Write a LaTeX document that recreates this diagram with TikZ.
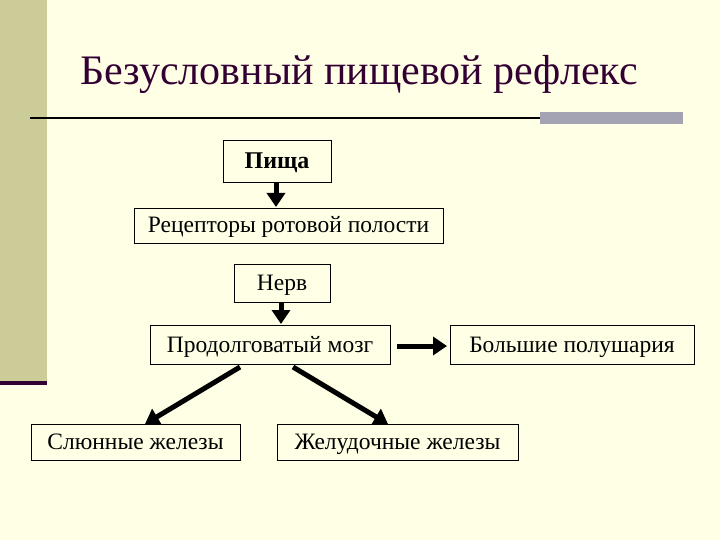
\documentclass[tikz,border=0pt]{standalone}
\usepackage{fontspec}
\setmainfont{Liberation Serif}
\usetikzlibrary{arrows.meta}
\definecolor{bg}{HTML}{FFFFE6}
\definecolor{strip}{HTML}{CCCC99}
\definecolor{plum}{HTML}{330033}
\definecolor{barg}{HTML}{A3A3B4}
\begin{document}
\begin{tikzpicture}[x=1pt,y=-1pt,
  box/.style={draw=black,line width=0.8pt,fill=bg,inner sep=0pt,text height=15pt,text depth=0pt,font=\fontsize{23.5}{26}\selectfont},
  arr/.style={line width=5pt,-{Triangle[length=14pt,width=18pt]}}]
\fill[bg] (0,0) rectangle (720,540);
\useasboundingbox (0,0) rectangle (720,540);
\fill[strip] (0,0) rectangle (47,382);
\fill[plum] (0,381) rectangle (47,385);
\node[text=plum,font=\fontsize{42}{46}\selectfont,anchor=base west,inner sep=0pt] (title) at (80,85) {Безусловный пищевой рефлекс};
\draw[line width=2.5pt] (30,118) -- (540,118);
\fill[barg] (540,112) rectangle (683,124);
\node[box,minimum width=108pt,minimum height=42pt,font=\fontsize{24}{26}\selectfont\bfseries] (a) at (277,161) {Пища};
\node[box,minimum width=309pt,minimum height=35pt] (b) at (288.5,225.5) {Рецепторы ротовой полости};
\node[box,minimum width=96pt,minimum height=38pt] (c) at (282,283) {Нерв};
\node[box,minimum width=240pt,minimum height=39pt] (d) at (270,344.5) {Продолговатый мозг};
\node[box,minimum width=244pt,minimum height=39pt] (e) at (572,344.5) {Большие полушария};
\node[box,minimum width=209pt,minimum height=36pt] (f) at (135.5,442) {Слюнные железы};
\node[box,minimum width=241pt,minimum height=36pt] (g) at (397.5,442) {Желудочные железы};
\draw[arr] (276,182) -- (276,207);
\draw[arr] (281,302) -- (281,324);
\draw[arr] (397,346) -- (447,346);
\coordinate (d1) at (240,367);
\coordinate (d2) at (293,367);
\draw[arr] (d1) -- (145,424);
\draw[arr] (d2) -- (388,424);
\end{tikzpicture}
\end{document}
